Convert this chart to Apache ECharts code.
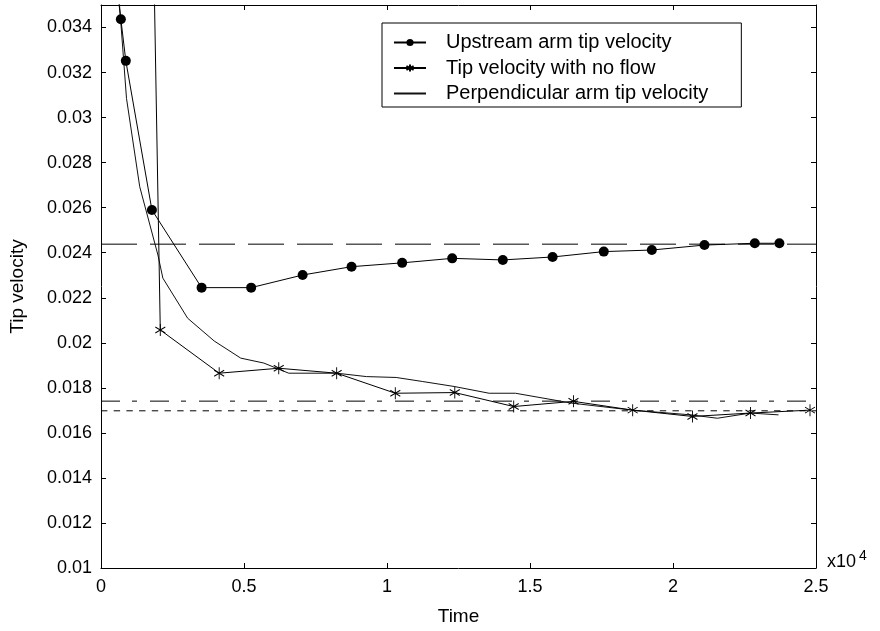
<!DOCTYPE html>
<html>
<head>
<meta charset="utf-8">
<script src="https://cdn.jsdelivr.net/npm/echarts@6/dist/echarts.min.js"></script>
<style>html,body{margin:0;padding:0;background:#fff}#c{width:880px;height:631px}</style>
</head>
<body>
<div id="c"></div>
<script>
// Time in units of x10^4
const timeUpstream = [0, 0.0694, 0.0868, 0.178, 0.3517, 0.525, 0.705, 0.876, 1.053, 1.228, 1.405, 1.579, 1.758, 1.926, 2.11, 2.286, 2.372];
const velUpstream  = [0.0415, 0.03437, 0.03252, 0.0259, 0.02245, 0.02245, 0.02301, 0.02338, 0.02355, 0.02375, 0.02368, 0.02381, 0.02405, 0.02412, 0.02434, 0.02442, 0.02442];

const timeNoFlow = [0, 0.2073, 0.4132, 0.6215, 0.824, 1.029, 1.237, 1.443, 1.652, 1.859, 2.068, 2.271, 2.479];
const velNoFlow  = [0.17, 0.02057, 0.01865, 0.01887, 0.01865, 0.01776, 0.01779, 0.01717, 0.0174, 0.01701, 0.01673, 0.01688, 0.01701];

const timePerp = [0, 0.0892, 0.1354, 0.199, 0.2163, 0.3031, 0.3958, 0.4885, 0.5694, 0.6563, 0.824, 0.928, 1.032, 1.125, 1.235, 1.357, 1.449, 1.646, 1.858, 2.0625, 2.155, 2.271, 2.369];
const velPerp  = [0.046, 0.03085, 0.02693, 0.0239, 0.02287, 0.02109, 0.02008, 0.01932, 0.0191, 0.01865, 0.01865, 0.0185, 0.01846, 0.01828, 0.01806, 0.01776, 0.01776, 0.01732, 0.01701, 0.0168, 0.01665, 0.01688, 0.0168];

// Horizontal reference levels
const refUpstream = 0.02438;
const refNoFlow   = 0.01741;
const refPerp     = 0.01698;
const timeRange   = [0, 2.5];

const seriesNames = ['Upstream arm tip velocity', 'Tip velocity with no flow', 'Perpendicular arm tip velocity'];
const xAxisTitle = 'Time';
const yAxisTitle = 'Tip velocity';

const FONT = "'Liberation Sans', Arial, Helvetica, sans-serif";
const zip = (a, b) => a.map((v, i) => [v, b[i]]);
const star = 'path://M5,0L5,10M0.67,2.5L9.33,7.5M0.67,7.5L9.33,2.5';

const chart = echarts.init(document.getElementById('c'), null, {renderer: 'canvas'});

const axisCommon = {
  type: 'value',
  axisLine: {show: true, onZero: false, lineStyle: {color: '#000', width: 1}},
  axisTick: {show: true, inside: true, length: 5, lineStyle: {color: '#000', width: 1}},
  splitLine: {show: false}
};

function refSeries(v, dash) {
  return {
    type: 'line', data: timeRange.map(t => [t, v]), symbol: 'none', silent: true,
    lineStyle: {color: '#000', width: 1, type: dash}, z: 1
  };
}

chart.setOption({
  animation: false,
  backgroundColor: '#fff',
  grid: {left: 96, right: 64, top: 5, bottom: 61, containLabel: false},
  xAxis: [
    Object.assign({}, axisCommon, {
      position: 'bottom', min: 0, max: 2.5, interval: 0.5,
      axisLabel: {color: '#000', fontSize: 18, fontFamily: FONT, margin: 10},
      name: xAxisTitle, nameLocation: 'middle', nameGap: 39,
      nameTextStyle: {color: '#000', fontSize: 19, fontFamily: FONT}
    }),
    Object.assign({}, axisCommon, {
      position: 'top', min: 0, max: 2.5, interval: 0.5, axisLabel: {show: false}
    })
  ],
  yAxis: [
    Object.assign({}, axisCommon, {
      position: 'left', min: 0.01, max: 0.035, interval: 0.002,
      axisLabel: {color: '#000', fontSize: 18, fontFamily: FONT, margin: 9, showMaxLabel: false,
        formatter: v => String(+v.toFixed(3))},
      name: yAxisTitle, nameLocation: 'middle', nameGap: 74,
      nameTextStyle: {color: '#000', fontSize: 19, fontFamily: FONT}
    }),
    Object.assign({}, axisCommon, {
      position: 'right', min: 0.01, max: 0.035, interval: 0.002, axisLabel: {show: false}
    })
  ],
  legend: {
    data: [
      {name: seriesNames[0]},
      {name: seriesNames[1]},
      {name: seriesNames[2], itemStyle: {opacity: 0}}
    ],
    orient: 'vertical',
    left: 382, top: 23,
    padding: [9.5, 33, 3.5, 11],
    itemWidth: 32, itemHeight: 9, itemGap: 5.5,
    borderColor: '#000', borderWidth: 1, backgroundColor: '#fff',
    textStyle: {color: '#000', fontSize: 20, fontFamily: FONT, lineHeight: 20, padding: [0, 0, 0, 15]}
  },
  graphic: [
    {type: 'text', left: 827, top: 553, style: {text: 'x10', font: '18px ' + FONT, fill: '#000'}},
    {type: 'text', left: 859, top: 549, style: {text: '4', font: '14px ' + FONT, fill: '#000'}}
  ],
  series: [
    {
      name: seriesNames[0], type: 'line', data: zip(timeUpstream, velUpstream),
      symbol: 'circle', symbolSize: 10, showAllSymbol: true,
      lineStyle: {color: '#000', width: 1}, itemStyle: {color: '#000'}, z: 3
    },
    {
      name: seriesNames[1], type: 'line', data: zip(timeNoFlow, velNoFlow),
      symbol: star, symbolSize: [10, 12], showAllSymbol: true,
      lineStyle: {color: '#000', width: 1},
      itemStyle: {color: '#000', borderColor: '#000', borderWidth: 1}, z: 3
    },
    {
      name: seriesNames[2], type: 'line', data: zip(timePerp, velPerp),
      symbol: 'none', lineStyle: {color: '#111', width: 1}, itemStyle: {color: '#000'}, z: 2
    },
    refSeries(refUpstream, [36, 13]),
    refSeries(refNoFlow, [19, 12, 5, 13]),
    refSeries(refPerp, [6.4, 6.3])
  ]
});
</script>
</body>
</html>
